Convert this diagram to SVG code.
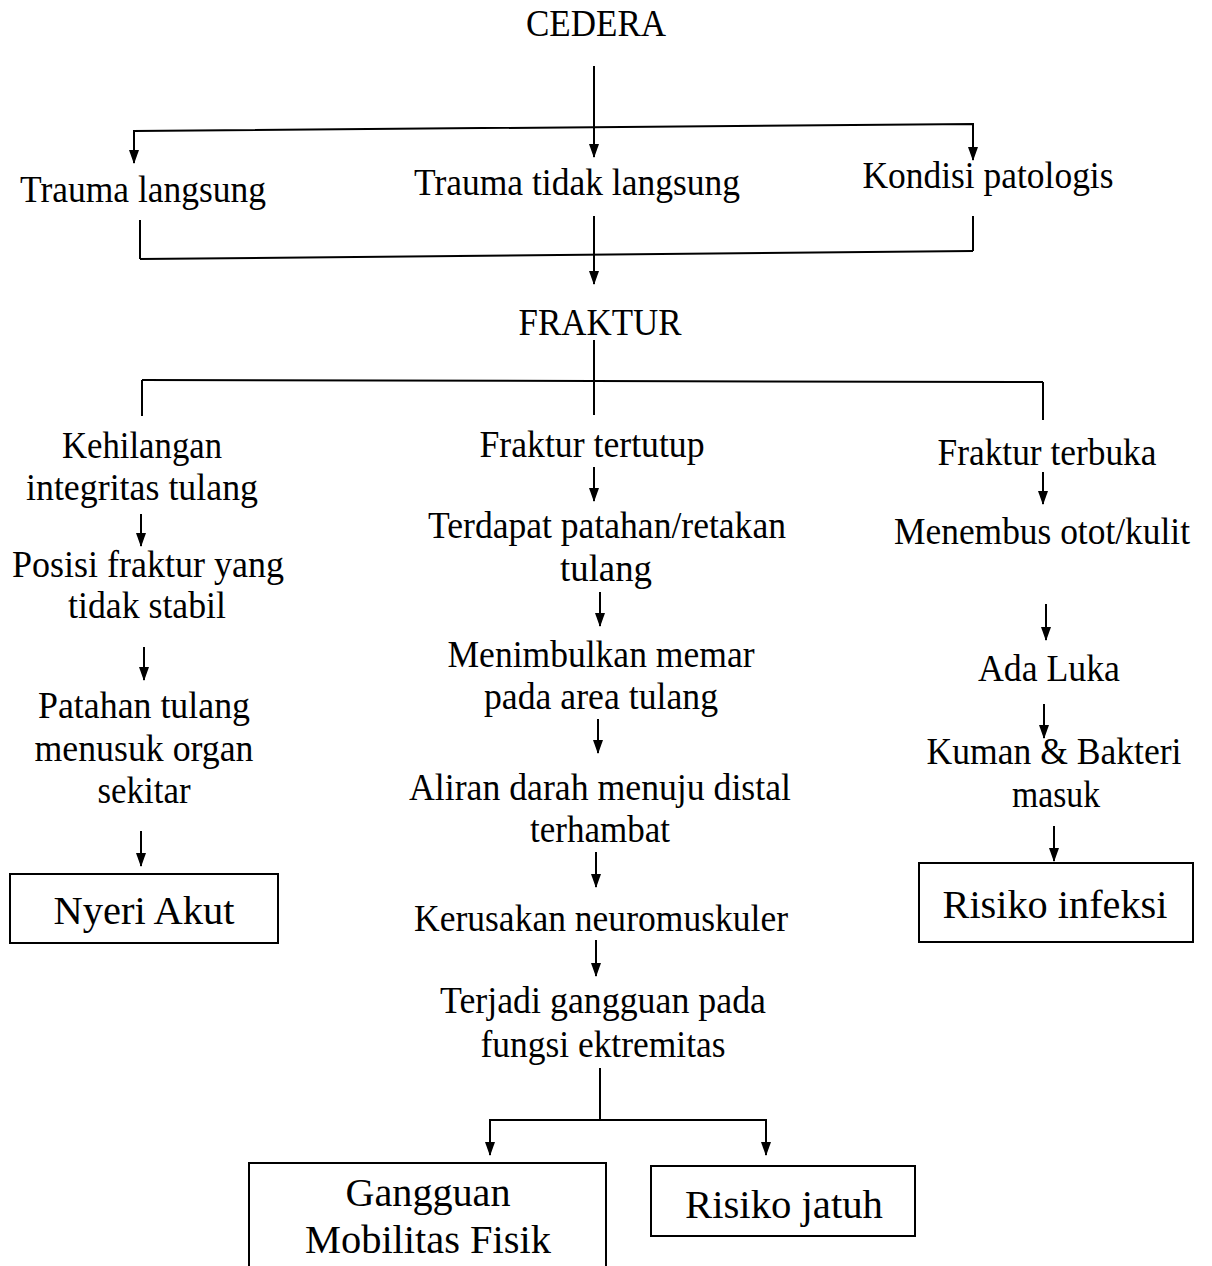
<svg xmlns="http://www.w3.org/2000/svg" width="1212" height="1266" viewBox="0 0 1212 1266">
<defs>
<marker id="arr" markerWidth="14" markerHeight="10" refX="13" refY="5" orient="auto" markerUnits="userSpaceOnUse" viewBox="0 0 14 10">
<path d="M0,0 L14,5 L0,10 Z" fill="#000"/>
</marker>
</defs>
<style>
text{font-family:"Liberation Serif","Times New Roman",serif;font-size:37px;fill:#000;text-anchor:middle}
.big{font-size:41px}
line,polyline{stroke:#000;stroke-width:2;fill:none}
.a{marker-end:url(#arr)}
rect{fill:#fff;stroke:#000;stroke-width:2}
</style>
<rect x="0" y="0" width="1212" height="1266" style="stroke:none"/>
<g id="connectors">
<line class="a" x1="594" y1="66" x2="594" y2="157"/>
<polyline class="a" points="134,163 134,131 973,124 973,160"/>
<line class="a" x1="134" y1="140" x2="134" y2="163"/>
<line x1="140" y1="220" x2="140" y2="259"/>
<line x1="973" y1="216" x2="973" y2="251"/>
<line x1="140" y1="259" x2="973" y2="251"/>
<line class="a" x1="594" y1="216" x2="594" y2="284"/>
<line x1="594" y1="340" x2="594" y2="415"/>
<line x1="142" y1="380" x2="1043" y2="382"/>
<line x1="142" y1="380" x2="142" y2="416"/>
<line x1="1043" y1="382" x2="1043" y2="420"/>
<line class="a" x1="141" y1="514" x2="141" y2="546"/>
<line class="a" x1="144" y1="647" x2="144" y2="680"/>
<line class="a" x1="141" y1="831" x2="141" y2="866"/>
<line class="a" x1="594" y1="467" x2="594" y2="501"/>
<line class="a" x1="600" y1="592" x2="600" y2="626"/>
<line class="a" x1="598" y1="719" x2="598" y2="753"/>
<line class="a" x1="596" y1="852" x2="596" y2="887"/>
<line class="a" x1="596" y1="940" x2="596" y2="976"/>
<line x1="600" y1="1068" x2="600" y2="1120"/>
<polyline class="a" points="600,1120 490,1120 490,1155"/>
<polyline class="a" points="600,1120 766,1120 766,1155"/>
<line class="a" x1="1043" y1="472" x2="1043" y2="504"/>
<line class="a" x1="1046" y1="604" x2="1046" y2="640"/>
<line class="a" x1="1044" y1="704" x2="1044" y2="738"/>
<line class="a" x1="1054" y1="826" x2="1054" y2="861"/>
</g>
<g id="cedera"><text x="596" y="36" textLength="140" lengthAdjust="spacingAndGlyphs">CEDERA</text></g>
<g id="trauma-langsung"><text x="143" y="202" textLength="246" lengthAdjust="spacingAndGlyphs">Trauma langsung</text></g>
<g id="trauma-tidak-langsung"><text x="577" y="195" textLength="326" lengthAdjust="spacingAndGlyphs">Trauma tidak langsung</text></g>
<g id="kondisi-patologis"><text x="988" y="188" textLength="251" lengthAdjust="spacingAndGlyphs">Kondisi  patologis</text></g>
<g id="fraktur"><text x="600" y="335" textLength="163" lengthAdjust="spacingAndGlyphs">FRAKTUR</text></g>
<g id="kehilangan">
<text x="142" y="458" textLength="160" lengthAdjust="spacingAndGlyphs">Kehilangan</text>
<text x="142" y="500" textLength="232" lengthAdjust="spacingAndGlyphs">integritas tulang</text>
</g>
<g id="posisi">
<text x="148" y="577" textLength="272" lengthAdjust="spacingAndGlyphs">Posisi  fraktur yang</text>
<text x="147" y="618" textLength="158" lengthAdjust="spacingAndGlyphs">tidak stabil</text>
</g>
<g id="patahan">
<text x="144" y="718" textLength="212" lengthAdjust="spacingAndGlyphs">Patahan tulang</text>
<text x="144" y="761" textLength="219" lengthAdjust="spacingAndGlyphs">menusuk organ</text>
<text x="144" y="803" textLength="93" lengthAdjust="spacingAndGlyphs">sekitar</text>
</g>
<g id="nyeri-akut">
<rect x="10" y="874" width="268" height="69"/>
<text class="big" x="144" y="924" textLength="181" lengthAdjust="spacingAndGlyphs">Nyeri Akut</text>
</g>
<g id="fraktur-tertutup"><text x="592" y="457" textLength="225" lengthAdjust="spacingAndGlyphs">Fraktur tertutup</text></g>
<g id="terdapat">
<text x="607" y="538" textLength="358" lengthAdjust="spacingAndGlyphs">Terdapat patahan/retakan</text>
<text x="606" y="581" textLength="92" lengthAdjust="spacingAndGlyphs">tulang</text>
</g>
<g id="menimbulkan">
<text x="601" y="667" textLength="307" lengthAdjust="spacingAndGlyphs">Menimbulkan  memar</text>
<text x="601" y="709" textLength="234" lengthAdjust="spacingAndGlyphs">pada area tulang</text>
</g>
<g id="aliran">
<text x="600" y="800" textLength="382" lengthAdjust="spacingAndGlyphs">Aliran darah menuju distal</text>
<text x="600" y="842" textLength="140" lengthAdjust="spacingAndGlyphs">terhambat</text>
</g>
<g id="kerusakan"><text x="601" y="931" textLength="374" lengthAdjust="spacingAndGlyphs">Kerusakan neuromuskuler</text></g>
<g id="terjadi">
<text x="603" y="1013" textLength="326" lengthAdjust="spacingAndGlyphs">Terjadi gangguan pada</text>
<text x="603" y="1057" textLength="245" lengthAdjust="spacingAndGlyphs">fungsi ektremitas</text>
</g>
<g id="fraktur-terbuka"><text x="1047" y="465" textLength="219" lengthAdjust="spacingAndGlyphs">Fraktur terbuka</text></g>
<g id="menembus"><text x="1042" y="544" textLength="296" lengthAdjust="spacingAndGlyphs">Menembus  otot/kulit</text></g>
<g id="ada-luka"><text x="1049" y="681" textLength="142" lengthAdjust="spacingAndGlyphs">Ada Luka</text></g>
<g id="kuman">
<text x="1054" y="764" textLength="255" lengthAdjust="spacingAndGlyphs">Kuman &amp; Bakteri</text>
<text x="1056" y="807" textLength="88" lengthAdjust="spacingAndGlyphs">masuk</text>
</g>
<g id="risiko-infeksi">
<rect x="919" y="863" width="274" height="79"/>
<text class="big" x="1055" y="918" textLength="225" lengthAdjust="spacingAndGlyphs">Risiko infeksi</text>
</g>
<g id="gangguan-mobilitas">
<rect x="249" y="1163" width="357" height="110"/>
<text class="big" x="428" y="1206" textLength="165" lengthAdjust="spacingAndGlyphs">Gangguan</text>
<text class="big" x="428" y="1253" textLength="246" lengthAdjust="spacingAndGlyphs">Mobilitas Fisik</text>
</g>
<g id="risiko-jatuh">
<rect x="651" y="1166" width="264" height="70"/>
<text class="big" x="784" y="1218" textLength="198" lengthAdjust="spacingAndGlyphs">Risiko jatuh</text>
</g>
</svg>
